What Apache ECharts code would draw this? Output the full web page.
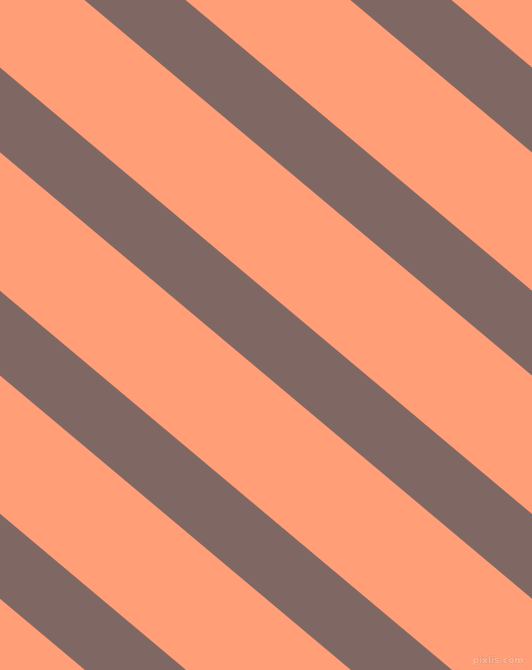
<!DOCTYPE html>
<html>
<head>
    <meta charset="utf-8" />
    <script src="https://cdn.jsdelivr.net/npm/echarts@6/dist/echarts.min.js"></script>
    <style>
        html, body { margin: 0; padding: 0; background: #ff9e77; }
    </style>
</head>
<body>
<div id="main" style="width: 532px;height:670px;"></div>

<script>
    // stripe centre lines (pixel units, y grows downward)
    var stripeX = [-40, 572];
    var stripeStartY = [-370.0, -146.9, 76.3, 299.5, 522.7];
    var stripeEndY = [143.6, 366.7, 589.9, 813.1, 1036.3];
    const stripeWidth = 65;

    var chartDom = document.getElementById('main');
    var myChart = echarts.init(chartDom);
    var option;

    var series = stripeStartY.map(function(y0, i) {
        return {
            type: 'line',
            clip: true,
            symbol: 'none',
            silent: true,
            animation: false,
            lineStyle: {
                color: '#7f6763',
                width: stripeWidth,
                cap: 'butt'
            },
            data: [
                [stripeX[0], y0],
                [stripeX[1], stripeEndY[i]]
            ]
        };
    });

    option = {
        backgroundColor: '#ff9e77',
        animation: false,
        grid: {
            left: 0,
            right: 0,
            top: 0,
            bottom: 0
        },
        xAxis: {
            type: 'value',
            min: 0,
            max: 532,
            show: false
        },
        yAxis: {
            type: 'value',
            min: 0,
            max: 670,
            inverse: true,
            show: false
        },
        graphic: [{
            type: 'text',
            right: 8,
            bottom: 5,
            style: {
                text: 'pixlis.com',
                fill: '#ffb595',
                stroke: '#d08a70',
                lineWidth: 0.5,
                font: 'bold 9px "DejaVu Sans"'
            }
        }],
        series: series
    };

    option && myChart.setOption(option);
</script>
</body>
</html>
